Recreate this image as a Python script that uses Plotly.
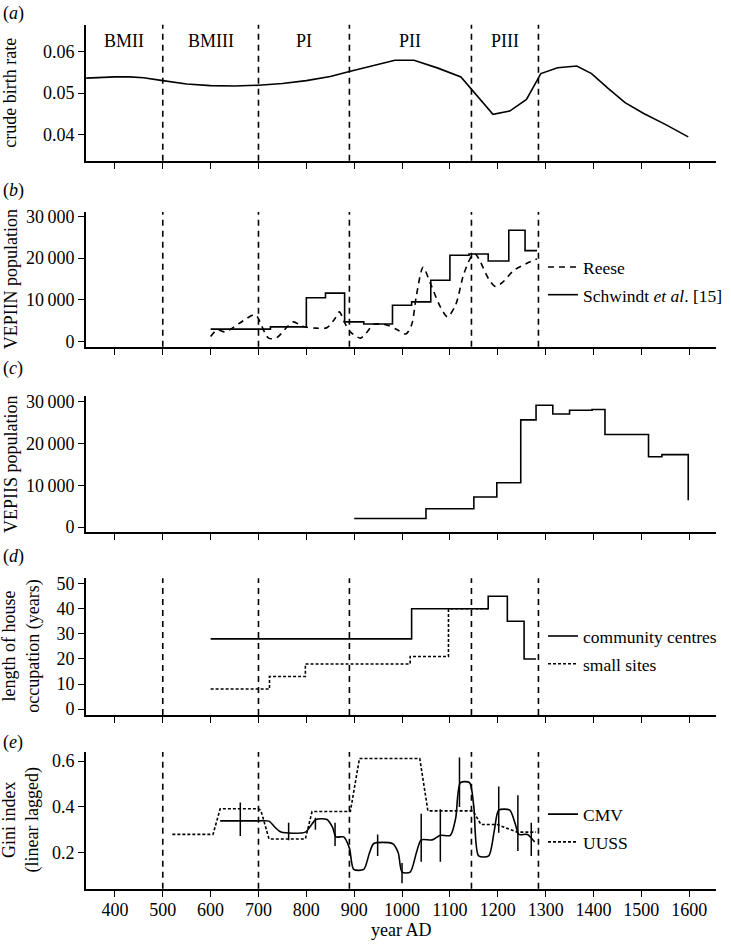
import plotly.graph_objects as go

# ---------------- data ----------------
period_bounds = [500, 700, 890, 1145, 1285]
period_names = ["BMII", "BMIII", "PI", "PII", "PIII"]
period_mid = [420, 600, 795, 1017.5, 1215]

# (a) crude birth rate
cbr_years = [340, 370, 400, 430, 460, 500, 550, 600, 650, 700, 750, 800, 850, 890, 940, 985,
             1025, 1075, 1123, 1145, 1190, 1225, 1260, 1290, 1325, 1365, 1396, 1430, 1466,
             1505, 1550, 1598]
cbr_vals = [0.0536, 0.0538, 0.0539, 0.0539, 0.0537, 0.0530, 0.0522, 0.0518, 0.0517, 0.0519,
            0.0523, 0.0530, 0.0540, 0.0552, 0.0566, 0.0579, 0.0579, 0.0560, 0.0539, 0.0510,
            0.0449, 0.0457, 0.0485, 0.0547, 0.0561, 0.0565, 0.0547, 0.0512, 0.0477, 0.0451,
            0.0425, 0.0395]

# (b) VEPIIN population
reese_years = [600, 614, 630, 662, 690, 697, 721, 738, 760, 773, 790, 801, 820, 843, 860, 869,
               880, 892, 913, 925, 941, 969, 990, 1008, 1020, 1030, 1044, 1059, 1080, 1095,
               1112, 1129, 1146, 1153, 1164, 1181, 1195, 1210, 1233, 1265, 1282]
reese_vals = [1200, 2800, 2300, 4500, 6400, 6000, 800, 900, 3500, 4700, 3700, 3400, 3200, 3300,
              5500, 7100, 4500, 2300, 800, 2000, 4100, 3900, 2800, 1800, 4000, 11000, 17800,
              14000, 8300, 5900, 8800, 16200, 20600, 21000, 19000, 15000, 13200, 14200, 17000,
              19000, 19800]
schw_years = [600, 725, 800, 840, 880, 920, 980, 1020, 1060, 1100, 1140, 1180, 1223, 1257, 1282]
schw_vals = [2950, 3500, 10500, 11600, 4700, 4200, 8700, 9500, 14700, 20700, 21000, 19300,
             26700, 21800, 21800]

# (c) VEPIIS population
vs_years = [900, 1050, 1150, 1198, 1248, 1280, 1315, 1350, 1397, 1424, 1515, 1543, 1598]
vs_vals = [2050, 4400, 7200, 10600, 25600, 29100, 27000, 27900, 28100, 22100, 16800, 17300, 6400]

# (d) length of house occupation
cc_years = [600, 1020, 1180, 1220, 1255, 1280]
cc_vals = [28, 40, 45, 35, 20, 20]
ss_years = [600, 723, 798, 1017, 1097, 1180]
ss_vals = [8, 13, 18, 21, 40, 40]

# (e) Gini index
cmv_years = [620, 700, 722, 735, 747, 798, 810, 820, 843, 855, 862, 878, 890, 899, 920, 932,
             941, 980, 992, 1000, 1017, 1030, 1040, 1063, 1080, 1101, 1112, 1122, 1141, 1150,
             1160, 1181, 1193, 1202, 1225, 1236, 1244, 1262, 1277]
cmv_vals = [0.339, 0.339, 0.338, 0.31, 0.29, 0.29, 0.32, 0.345, 0.345, 0.31, 0.269, 0.269,
            0.22, 0.127, 0.127, 0.2, 0.24, 0.24, 0.2, 0.115, 0.115, 0.2, 0.256, 0.256, 0.276,
            0.276, 0.35, 0.506, 0.506, 0.40, 0.186, 0.186, 0.30, 0.386, 0.386, 0.33, 0.28,
            0.28, 0.247]
err_years = [662, 763, 819, 860, 949, 1000, 1040, 1080, 1120, 1202, 1242, 1270]
err_lo = [0.273, 0.254, 0.300, 0.229, 0.186, 0.066, 0.160, 0.160, 0.400, 0.287, 0.207, 0.186]
err_hi = [0.419, 0.331, 0.353, 0.331, 0.280, 0.155, 0.370, 0.390, 0.616, 0.489, 0.451, 0.331]
uuss_years = [520, 605, 620, 700, 705, 722, 798, 812, 892, 911, 1037, 1054, 1148, 1165, 1199,
              1240, 1280]
uuss_vals = [0.28, 0.28, 0.392, 0.392, 0.385, 0.26, 0.26, 0.38, 0.38, 0.612, 0.612, 0.383,
             0.383, 0.323, 0.323, 0.29, 0.29]

x_ticks = list(range(400, 1700, 100))

# ---------------- layout helpers ----------------
W, H = 731, 946
ML, MR = 86, 15
PW = W - ML - MR
FONT = "Liberation Serif, Times New Roman, serif"
FS = 18
LW = 1.6
DASH = "6px,5px"
DOT = "3px,2px"

def px_x(p):
    return (p - ML) / PW

def px_y(p):
    return 1 - p / H

panels = [(20, 157.3), (209.3, 345.3), (395, 532.7), (579.3, 717.7), (755, 893.3)]
yranges = [[0.0338, 0.0664], [-1250, 31050], [-1180, 31350], [-2.4, 52.2], [0.042, 0.640]]
xrange_ = [339.6, 1656]

fig = go.Figure()

def add(tr, i):
    tr.update(xaxis="x" if i == 0 else f"x{i+1}", yaxis="y" if i == 0 else f"y{i+1}")
    fig.add_trace(tr)

line = dict(color="black", width=LW)

add(go.Scatter(x=cbr_years, y=cbr_vals, mode="lines", line=line, showlegend=False), 0)

add(go.Scatter(x=reese_years, y=reese_vals, mode="lines", name="Reese",
               line=dict(color="black", width=LW, dash=DASH, shape="spline", smoothing=0.8),
               legend="legend", legendgroup="r"), 1)
add(go.Scatter(x=schw_years, y=schw_vals, mode="lines", name="Schwindt <i>et al</i>. [15]",
               line=dict(color="black", width=LW, shape="hv"),
               legend="legend", legendgroup="s"), 1)

add(go.Scatter(x=vs_years, y=vs_vals, mode="lines", line=dict(color="black", width=LW, shape="hv"),
               showlegend=False), 2)

add(go.Scatter(x=cc_years, y=cc_vals, mode="lines", name="community centres",
               line=dict(color="black", width=LW, shape="hv"), legend="legend2",
               legendgroup="c"), 3)
add(go.Scatter(x=ss_years, y=ss_vals, mode="lines", name="small sites",
               line=dict(color="black", width=LW, shape="hv", dash=DOT), legend="legend2",
               legendgroup="d"), 3)

add(go.Scatter(x=cmv_years, y=cmv_vals, mode="lines", name="CMV",
               line=dict(color="black", width=LW, shape="spline", smoothing=0.7),
               legend="legend3", legendgroup="e"), 4)
add(go.Scatter(x=uuss_years, y=uuss_vals, mode="lines", name="UUSS",
               line=dict(color="black", width=LW, dash=DOT), legend="legend3",
               legendgroup="f"), 4)
add(go.Scatter(x=err_years, y=err_lo, mode="markers", marker=dict(size=0.1, color="black"),
               error_y=dict(type="data", symmetric=False,
                            array=[h - l for h, l in zip(err_hi, err_lo)],
                            arrayminus=[0] * len(err_lo), width=0, thickness=1.5,
                            color="black"),
               showlegend=False, hoverinfo="skip"), 4)

# axes
ytick_specs = [
    ([0.04, 0.05, 0.06], ["0.04", "0.05", "0.06"]),
    ([0, 10000, 20000, 30000], ["0", "10\u2009000", "20\u2009000", "30\u2009000"]),
    ([0, 10000, 20000, 30000], ["0", "10\u2009000", "20\u2009000", "30\u2009000"]),
    ([0, 10, 20, 30, 40, 50], ["0", "10", "20", "30", "40", "50"]),
    ([0.2, 0.4, 0.6], ["0.2", "0.4", "0.6"]),
]
lay = {}
for i, (top, bot) in enumerate(panels):
    sfx = "" if i == 0 else str(i + 1)
    xa = dict(
        domain=[0, 1], range=xrange_, anchor="y" + sfx, tickvals=x_ticks,
        ticktext=[str(t) for t in x_ticks], showticklabels=(i == 4),
        ticks="outside", ticklen=6, tickwidth=1.3, tickcolor="black",
        showline=True, linecolor="black", linewidth=1.8, showgrid=False, zeroline=False,
        tickfont=dict(family=FONT, size=FS, color="black"))
    if i == 4:
        xa["ticklabelstandoff"] = -2
    lay["xaxis" + sfx] = xa
    lay["yaxis" + sfx] = dict(
        domain=[px_y(bot), px_y(top)], range=yranges[i], anchor="x" + sfx,
        tickvals=ytick_specs[i][0], ticktext=ytick_specs[i][1],
        ticks="outside", ticklen=6, tickwidth=1.3, tickcolor="black",
        showline=True, linecolor="black", linewidth=1.8, showgrid=False, zeroline=False,
        tickfont=dict(family=FONT, size=FS, color="black"))

shapes = []
for i in [0, 1, 3, 4]:
    sfx = "" if i == 0 else str(i + 1)
    for b in period_bounds:
        shapes.append(dict(type="line", xref="x" + sfx, yref=f"y{sfx} domain", x0=b, x1=b,
                           y0=0, y1=1, line=dict(color="black", width=1.6, dash=DASH)))

ann = []
for name, m in zip(period_names, period_mid):
    ann.append(dict(text=name, x=m, xref="x", y=px_y(36.7), yref="paper", showarrow=False,
                    xanchor="center", yanchor="middle",
                    font=dict(family=FONT, size=FS, color="black")))

labels = ["a", "b", "c", "d", "e"]
label_y = [9, 187, 367, 557, 745]
for l, yy in zip(labels, label_y):
    ann.append(dict(text=f"(<i>{l}</i>)", x=px_x(1), xref="paper", y=px_y(yy), yref="paper",
                    showarrow=False, xanchor="left", yanchor="middle",
                    font=dict(family=FONT, size=FS, color="black")))

titles = ["crude birth rate", "VEPIIN population", "VEPIIS population",
          "length of house<br>occupation (years)", "Gini index<br>(linear lagged)"]
title_x = [10, 11, 11, 21, 21]
for t, (top, bot), tx in zip(titles, panels, title_x):
    ann.append(dict(text=t, x=px_x(tx), xref="paper", y=px_y((top + bot) / 2), yref="paper",
                    showarrow=False, xanchor="center", yanchor="middle", textangle=-90,
                    font=dict(family=FONT, size=FS, color="black")))

ann.append(dict(text="year AD", x=px_x(401), xref="paper", y=px_y(935), yref="paper",
                showarrow=False, xanchor="center", yanchor="middle",
                font=dict(family=FONT, size=FS, color="black")))

def leg(ymid):
    return dict(x=px_x(543), xanchor="left", y=px_y(ymid), yanchor="middle",
                font=dict(family=FONT, size=17.5, color="black"), bgcolor="rgba(0,0,0,0)",
                traceorder="grouped", tracegroupgap=2, itemwidth=30)

fig.update_layout(
    width=W, height=H, margin=dict(l=ML, r=MR, t=0, b=0),
    paper_bgcolor="white", plot_bgcolor="white",
    shapes=shapes, annotations=ann,
    legend=leg(279), legend2=leg(652), legend3=leg(832),
    **lay)

fig.write_html("out.html", config={"displayModeBar": False},
               post_script="document.body.style.margin='0';document.body.style.overflow='hidden';")
